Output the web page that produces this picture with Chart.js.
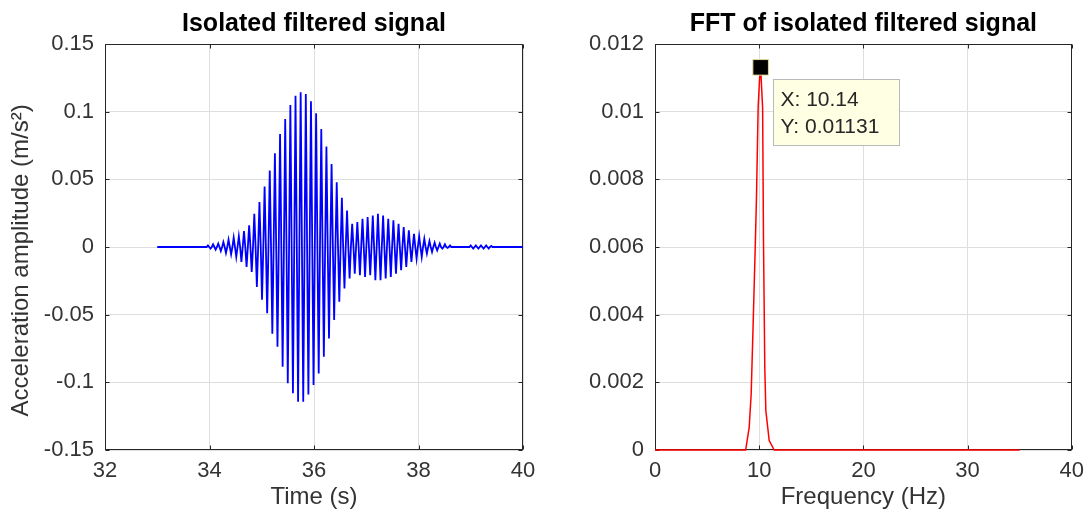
<!DOCTYPE html>
<html>
<head>
<meta charset="utf-8">
<title>Isolated filtered signal</title>
<script src="https://cdn.jsdelivr.net/npm/chart.js@4.4.1/dist/chart.umd.min.js"></script>
<style>
  html, body { margin: 0; padding: 0; background: #fff; }
  #wrap { position: relative; width: 1092px; height: 517px; }
  .panel { position: absolute; top: 0; width: 546px; height: 517px; }
</style>
</head>
<body>
<div id="wrap">
  <div class="panel" style="left:0"><canvas id="sigChart" width="546" height="517"></canvas></div>
  <div class="panel" style="left:546px"><canvas id="fftChart" width="546" height="517"></canvas></div>
</div>
<script>
// ---- time trace (m/s²) ----
const traceStart = 33;        // s, trace begins flat here
const traceEnd = 40;          // s
const burstStart = 33.97;     // s, first positive peak
const halfPeriod = 0.0493;    // s, half of one 10.14 Hz cycle

// positive and negative peak of each cycle
const peakPos = [0.0012, 0.002, 0.0025, 0.0037, 0.0054, 0.0069, 0.0079, 0.0118, 0.016, 0.0246,
  0.0332, 0.0447, 0.0565, 0.0693, 0.0835, 0.0946, 0.105, 0.1118, 0.1143, 0.113,
  0.1076, 0.0988, 0.0872, 0.0742, 0.0614, 0.0479, 0.0364, 0.027, 0.0172, 0.0184,
  0.0209, 0.0221, 0.0233, 0.0246, 0.0233, 0.0209, 0.0197, 0.0172, 0.0147, 0.0123,
  0.0098, 0.0079, 0.0061, 0.0044, 0.0032, 0.0025, 0.002, 0.0012, 0, 0,
  0, 0.0012, 0.0012, 0.0012, 0.0012, 0.0008];
const peakNeg = [-0.0012, -0.002, -0.003, -0.0044, -0.0054, -0.0074, -0.011, -0.0147, -0.0184, -0.0295,
  -0.039, -0.049, -0.064, -0.0737, -0.0885, -0.1007, -0.108, -0.1143, -0.1143, -0.109,
  -0.102, -0.0934, -0.081, -0.0676, -0.054, -0.0405, -0.0307, -0.0233, -0.0197, -0.0209,
  -0.0221, -0.0209, -0.0246, -0.0246, -0.0233, -0.0221, -0.0197, -0.0172, -0.0147, -0.011,
  -0.0086, -0.0074, -0.0049, -0.0037, -0.0025, -0.0012, -0.0007, 0, 0, 0,
  0, -0.0012, -0.0012, -0.0012, -0.0012, 0];

const timeTicks = [32, 34, 36, 38, 40];
const accelTicks = [-0.15, -0.1, -0.05, 0, 0.05, 0.1, 0.15];
const accelLabels = ['-0.15', '-0.1', '-0.05', '0', '0.05', '0.1', '0.15'];

// ---- spectrum ----
const fftFreq = [0, 8.7, 9.04, 9.23, 9.42, 9.62, 9.74, 9.9, 10.04, 10.14, 10.25, 10.33, 10.41, 10.54, 10.64, 10.96, 11.44, 35];
const fftAmp = [0, 0, 0.00067, 0.00165, 0.00372, 0.00599, 0.00747, 0.01013, 0.011, 0.01131, 0.0106, 0.0101, 0.00628, 0.0024, 0.00116, 0.00028, 0, 0];
const peakFreq = 10.14;
const peakAmp = 0.01131;

const freqTicks = [0, 10, 20, 30, 40];
const ampTicks = [0, 0.002, 0.004, 0.006, 0.008, 0.01, 0.012];
const ampLabels = ['0', '0.002', '0.004', '0.006', '0.008', '0.01', '0.012'];

const FONT = '"Liberation Sans", Arial, Helvetica, sans-serif';
const AXIS_COLOR = '#262626';
const GRID_COLOR = '#dedede';

// trace crosses zero between successive peaks
function buildTrace() {
  const pts = [{ x: traceStart, y: 0 }];
  peakPos.forEach((p, k) => {
    const t = burstStart + 2 * k * halfPeriod;
    pts.push({ x: t - halfPeriod / 2, y: 0 });
    pts.push({ x: t, y: p });
    pts.push({ x: t + halfPeriod / 2, y: 0 });
    pts.push({ x: t + halfPeriod, y: peakNeg[k] });
  });
  pts.push({ x: traceEnd, y: 0 });
  return pts;
}

// box around the axes with small inward ticks on all four sides
const axesBox = {
  id: 'axesBox',
  beforeDatasetsDraw(chart) {
    const { ctx, chartArea: a, scales: { x, y } } = chart;
    const L = Math.round(a.left) + 0.5, R = Math.round(a.right) - 0.5;
    const T = Math.round(a.top) + 0.5, B = Math.round(a.bottom) - 0.5;
    ctx.save();
    ctx.strokeStyle = AXIS_COLOR;
    ctx.lineWidth = 1;
    ctx.beginPath();
    x.ticks.forEach(t => {
      const px = Math.round(x.getPixelForValue(t.value)) + 0.5;
      ctx.moveTo(px, B); ctx.lineTo(px, B - 4);
      ctx.moveTo(px, T); ctx.lineTo(px, T + 4);
    });
    y.ticks.forEach(t => {
      const py = Math.round(y.getPixelForValue(t.value)) + 0.5;
      ctx.moveTo(L, py); ctx.lineTo(L + 4, py);
      ctx.moveTo(R, py); ctx.lineTo(R - 4, py);
    });
    ctx.stroke();
    ctx.strokeRect(L, T, R - L, B - T);
    ctx.restore();
  }
};

// data tip next to the spectrum peak
const dataTip = {
  id: 'dataTip',
  afterDatasetsDraw(chart) {
    const { ctx, scales: { x, y } } = chart;
    const px = x.getPixelForValue(peakFreq);
    const py = y.getPixelForValue(peakAmp);
    const bx = Math.round(px + 12) + 0.5, by = Math.round(py + 12) + 0.5;
    ctx.save();
    ctx.fillStyle = '#ffffe3';
    ctx.strokeStyle = '#b9b9b9';
    ctx.lineWidth = 1;
    ctx.fillRect(bx, by, 126, 66);
    ctx.strokeRect(bx, by, 126, 66);
    ctx.fillStyle = AXIS_COLOR;
    ctx.font = '21px ' + FONT;
    ctx.textBaseline = 'alphabetic';
    ctx.textAlign = 'left';
    ctx.fillText('X: ' + peakFreq, bx + 7, by + 26);
    ctx.fillText('Y: ' + peakAmp, bx + 7, by + 53);
    ctx.restore();
  }
};

function fixedTicks(values) {
  return scale => { scale.ticks = values.map(v => ({ value: v })); };
}

function xScale(min, max, ticks, title) {
  return {
    type: 'linear', min, max,
    afterBuildTicks: fixedTicks(ticks),
    afterFit: s => { s.height = 67; },
    grid: { color: GRID_COLOR, drawTicks: false },
    border: { display: false },
    ticks: { color: '#333', padding: 8, maxRotation: 0, font: { family: FONT, size: 22 },
      callback: v => String(v) },
    title: { display: true, text: title, color: '#333', font: { family: FONT, size: 24 },
      padding: { top: 0, bottom: 5 } }
  };
}

function yScale(min, max, ticks, labels, width, title) {
  const s = {
    min, max,
    afterBuildTicks: fixedTicks(ticks),
    afterFit: sc => { sc.width = width; },
    grid: { color: GRID_COLOR, drawTicks: false },
    border: { display: false },
    ticks: { color: '#333', padding: 11, font: { family: FONT, size: 22 },
      callback: (v, i) => labels[i] }
  };
  if (title) {
    // trailing spaces push the rotated label a little below the axis centre
    s.title = { display: true, text: title + '    ', color: '#333', font: { family: FONT, size: 24 },
      padding: { top: 7, bottom: 0 } };
  }
  return s;
}

function titleOpts(text) {
  return {
    display: true, text, color: '#000', fullSize: false,
    font: { family: FONT, size: 25, weight: 'bold', lineHeight: 1.2 },
    padding: { top: 9, bottom: 5 }
  };
}

new Chart(document.getElementById('sigChart'), {
  type: 'line',
  data: {
    datasets: [{
      data: buildTrace(),
      borderColor: '#0000ff',
      borderWidth: 1.8,
      pointRadius: 0,
      tension: 0,
      fill: false
    }]
  },
  options: {
    responsive: false,
    animation: false,
    events: [],
    layout: { padding: { left: 0, right: 23, top: 0, bottom: 0 } },
    scales: {
      x: xScale(32, 40, timeTicks, 'Time (s)'),
      y: yScale(-0.15, 0.15, accelTicks, accelLabels, 105, 'Acceleration amplitude (m/s²)')
    },
    plugins: {
      legend: { display: false },
      tooltip: { enabled: false },
      title: titleOpts('Isolated filtered signal')
    }
  },
  plugins: [axesBox]
});

new Chart(document.getElementById('fftChart'), {
  type: 'line',
  data: {
    datasets: [{
      // peak marker
      data: [{ x: peakFreq, y: peakAmp }],
      showLine: false,
      pointStyle: 'rect',
      pointRadius: 11,
      backgroundColor: '#000',
      borderColor: '#e2d99c',
      borderWidth: 1
    }, {
      // spectrum sits on the bottom axis, so let it draw over the frame
      data: fftFreq.map((f, i) => ({ x: f, y: fftAmp[i] })),
      borderColor: '#ff0000',
      borderWidth: 1.5,
      pointRadius: 0,
      tension: 0,
      fill: false,
      clip: 3
    }]
  },
  options: {
    responsive: false,
    animation: false,
    events: [],
    layout: { padding: { left: 0, right: 19, top: 0, bottom: 0 } },
    scales: {
      x: xScale(0, 40, freqTicks, 'Frequency (Hz)'),
      y: yScale(0, 0.012, ampTicks, ampLabels, 109, null)
    },
    plugins: {
      legend: { display: false },
      tooltip: { enabled: false },
      title: titleOpts('FFT of isolated filtered signal')
    }
  },
  plugins: [axesBox, dataTip]
});
</script>
</body>
</html>
